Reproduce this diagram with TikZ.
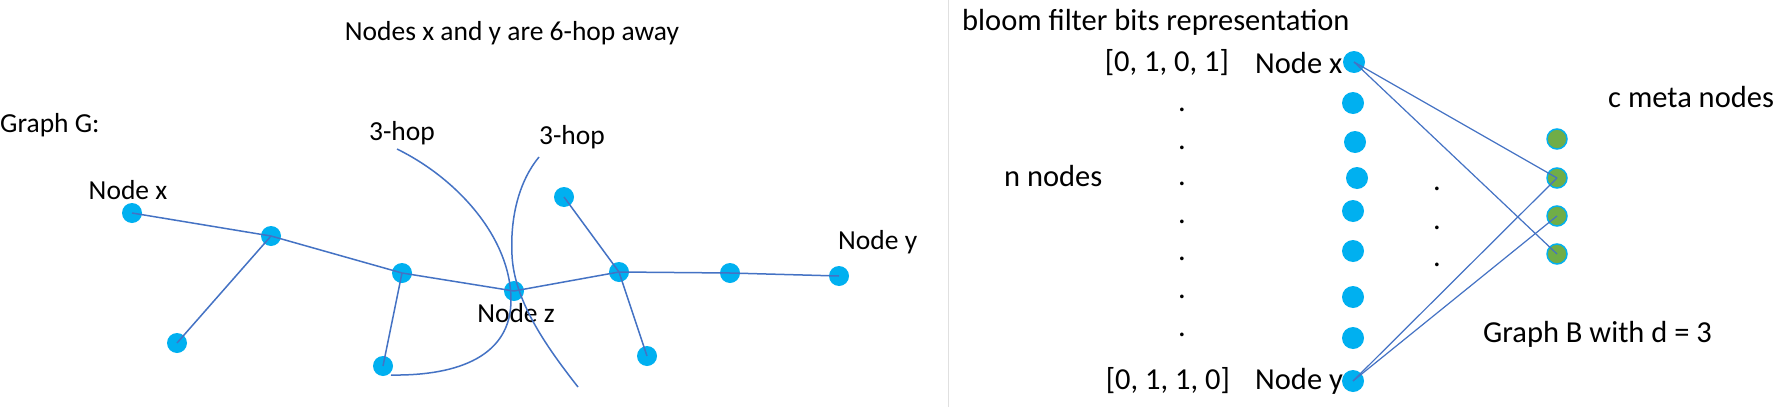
\documentclass[tikz,border=0pt]{standalone}
\usepackage{fontspec}
\setmainfont{Carlito}
\definecolor{dotblue}{HTML}{00B0F0}
\definecolor{edgeblue}{HTML}{4472C4}
\definecolor{metagreen}{HTML}{70AD47}
\definecolor{sepgray}{HTML}{E0E0E0}
\begin{document}
\begin{tikzpicture}[x=1pt,y=-1pt,
  bdot/.style={circle,fill=dotblue,inner sep=0,minimum size=20pt},
  bdotr/.style={circle,fill=dotblue,inner sep=0,minimum size=22pt},
  gdot/.style={circle,fill=metagreen,draw=dotblue,line width=1.5pt,inner sep=0,minimum size=20pt},
  conn/.style={draw=edgeblue,line width=1.5pt},
  lt/.style={font=\fontsize{27.5}{33}\selectfont,inner sep=0},
  rt/.style={font=\fontsize{30.5}{36}\selectfont,inner sep=0}]
\useasboundingbox[fill=white] (0,0) rectangle (1778,407);

% separator
\coordinate (sepT) at (948,0);
\coordinate (sepB) at (948,407);
\draw[sepgray,line width=1pt] (sepT) -- (sepB);

% ---------- Graph G ----------
\node[lt] (title) at (512,33) {Nodes x and y are 6-hop away};
\node[lt,anchor=west] (gg) at (0,125) {Graph G:};
\node[lt] (hop1) at (402,133) {3-hop};
\node[lt] (hop2) at (572,137) {3-hop};
\node[lt] (lx) at (128,190) {Node x};
\node[lt] (lz) at (516,313) {Node z};
\node[lt,anchor=west] (ly) at (838,242) {Node y};

\node[bdot] (x) at (132,213) {};
\node[bdot] (n2) at (271,236) {};
\node[bdot] (n3) at (177,343) {};
\node[bdot] (n4) at (402,273) {};
\node[bdot] (n5) at (383,366) {};
\node[bdot] (z) at (514,291) {};
\node[bdot] (n7) at (564,197) {};
\node[bdot] (n8) at (619,272) {};
\node[bdot] (n9) at (647,356) {};
\node[bdot] (n10) at (730,273) {};
\node[bdot] (y) at (839,276) {};

\draw[conn] (x.center) -- (n2.center);
\draw[conn] (n2.center) -- (n3.center);
\draw[conn] (n2.center) -- (n4.center);
\draw[conn] (n4.center) -- (z.center);
\draw[conn] (n4.center) -- (n5.center);
\draw[conn] (z.center) -- (n8.center);
\draw[conn] (n7.center) -- (n8.center);
\draw[conn] (n8.center) -- (n9.center);
\draw[conn] (n8.center) -- (n10.center);
\draw[conn] (n10.center) -- (y.center);

% 3-hop boundaries
\coordinate (c1s) at (397,149);
\coordinate (c1m) at (511,300);
\coordinate (c1e) at (391,375);
\draw[conn] (c1s) .. controls (460,180) and (511,240) .. (c1m)
  .. controls (511,355) and (460,376) .. (c1e);
\coordinate (c2s) at (539,157);
\coordinate (c2m) at (512,255);
\coordinate (c2e) at (578,387);
\draw[conn] (c2s) .. controls (520,180) and (510,215) .. (c2m)
  .. controls (514,300) and (545,345) .. (c2e);

% ---------- Graph B ----------
\node[rt,anchor=west] (bloom) at (962,22) {bloom filter bits representation};
\node[rt,anchor=east] (bitsx) at (1229,63) {[0, 1, 0, 1]};
\node[rt,anchor=west] (lbx) at (1255,63) {Node x};
\node[rt,anchor=east] (bitsy) at (1230,381) {[0, 1, 1, 0]};
\node[rt,anchor=west] (lby) at (1255,381) {Node y};
\node[rt,anchor=west] (nn) at (1004,176) {n nodes};
\node[rt,anchor=west] (cm) at (1608,97) {c meta nodes};
\node[rt,anchor=west] (gb) at (1483,334) {Graph B with d = 3};

\node[rt] (p1) at (1182,110) {.};
\node[rt] (p2) at (1182,148) {.};
\node[rt] (p3) at (1182,184) {.};
\node[rt] (p4) at (1182,222) {.};
\node[rt] (p5) at (1182,259) {.};
\node[rt] (p6) at (1182,297) {.};
\node[rt] (p7) at (1182,335) {.};
\node[rt] (q1) at (1437,189) {.};
\node[rt] (q2) at (1437,228) {.};
\node[rt] (q3) at (1437,265) {.};

\node[bdotr] (bx) at (1354,62) {};
\node[bdotr] (b2) at (1353,103) {};
\node[bdotr] (b3) at (1355,142) {};
\node[bdotr] (b4) at (1357,178) {};
\node[bdotr] (b5) at (1353,211) {};
\node[bdotr] (b6) at (1353,251) {};
\node[bdotr] (b7) at (1353,297) {};
\node[bdotr] (b8) at (1353,338) {};
\node[bdotr] (by) at (1353,381) {};

\node[gdot] (g1) at (1557,139) {};
\node[gdot] (g2) at (1557,178) {};
\node[gdot] (g3) at (1557,216) {};
\node[gdot] (g4) at (1557,254) {};

\draw[conn,line width=1.2pt] (bx.center) -- (g2.center);
\draw[conn,line width=1.2pt] (bx.center) -- (g4.center);
\draw[conn,line width=1.2pt] (by.center) -- (g2.center);
\draw[conn,line width=1.2pt] (by.center) -- (g3.center);
\end{tikzpicture}
\end{document}
